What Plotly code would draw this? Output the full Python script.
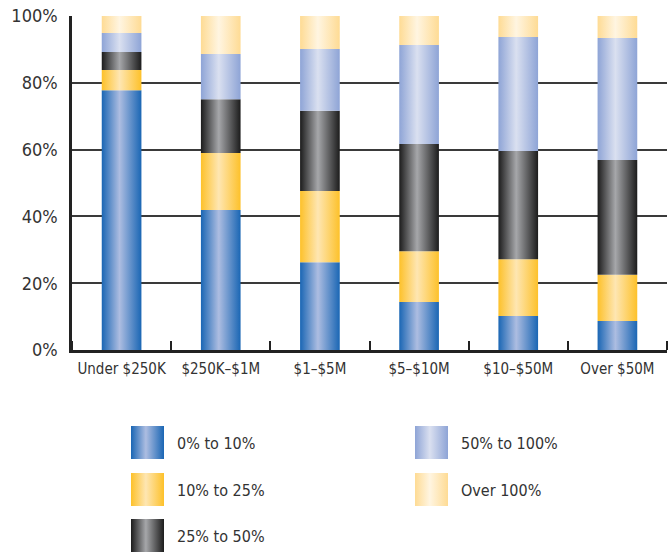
import plotly.graph_objects as go

# revenue-size categories and the share of firms in each growth band (%)
categories = ["Under $250K", "$250K–$1M", "$1–$5M", "$5–$10M", "$10–$50M", "Over $50M"]
share_0_10 = [77.8, 41.9, 26.3, 14.4, 10.2, 8.7]
share_10_25 = [6.0, 17.1, 21.3, 15.2, 17.0, 13.8]
share_25_50 = [5.4, 16.1, 24.0, 32.1, 32.4, 34.4]
share_50_100 = [5.7, 13.5, 18.5, 29.6, 34.1, 36.5]
share_over_100 = [5.1, 11.4, 9.9, 8.7, 6.3, 6.6]
series_names = ["0% to 10%", "10% to 25%", "25% to 50%", "50% to 100%", "Over 100%"]
y_ticks = [0, 20, 40, 60, 80, 100]

series = [share_0_10, share_10_25, share_25_50, share_50_100, share_over_100]
# (edge colour, centre colour) for the cylinder-like horizontal gradient
gradients = [
    ("#1a66b4", "#adbde1"),
    ("#fdc12a", "#fee6b2"),
    ("#1c1c1c", "#a6a7aa"),
    ("#8ea4d6", "#dae0f0"),
    ("#fedb94", "#fff5e1"),
]

FONT = "DejaVu Sans Condensed, Liberation Sans Narrow, sans-serif"
TEXT = "#333333"
half_w = 0.2  # half bar width in category units


def grad(edge, centre):
    return dict(type="horizontal",
                colorscale=[[0, edge], [0.45, centre], [1, edge]])


fig = go.Figure()

base = [0.0] * len(categories)
for vals, (edge, centre), name in zip(series, gradients, series_names):
    for i, v in enumerate(vals):
        c = i + 0.5
        b, t = base[i], base[i] + v
        fig.add_trace(go.Scatter(
            x=[c - half_w, c + half_w, c + half_w, c - half_w, c - half_w],
            y=[b, b, t, t, b],
            mode="lines", fill="toself",
            fillgradient=grad(edge, centre),
            line=dict(width=0),
            name=name, hoverinfo="skip", showlegend=False,
        ))
        base[i] = t

# hand-made legend in its own pixel-scaled axes below the chart
sw = 33
col_x = [131, 415]
row_y = [426, 473, 519]
for k, (name, (edge, centre)) in enumerate(zip(series_names, gradients)):
    col = 0 if k < 3 else 1
    row = k if k < 3 else k - 3
    x0, y0 = col_x[col], row_y[row]
    fig.add_trace(go.Scatter(
        x=[x0, x0 + sw, x0 + sw, x0, x0],
        y=[y0, y0, y0 + sw, y0 + sw, y0],
        xaxis="x2", yaxis="y2",
        mode="lines", fill="toself",
        fillgradient=grad(edge, centre),
        line=dict(width=0), hoverinfo="skip", showlegend=False,
    ))
    fig.add_annotation(
        x=x0 + sw + 11, y=y0 + sw / 2 + 1, xref="x2", yref="y2",
        text=name, showarrow=False, xanchor="left", yanchor="middle",
        font=dict(family=FONT, size=16, color=TEXT),
    )

H = 552
main_bottom = (H - 350) / (H - 16)

fig.update_layout(
    width=668, height=H,
    margin=dict(l=72, r=1, t=16, b=0, autoexpand=False),
    paper_bgcolor="white", plot_bgcolor="white",
    showlegend=False,
    xaxis=dict(
        range=[0, 6], domain=[0, 1], anchor="y",
        tickmode="array",
        tickvals=[i + 0.5 for i in range(len(categories))],
        ticktext=categories, ticks="", tickangle=0, automargin=False,
        ticklabelstandoff=3,
        tickfont=dict(family=FONT, size=15, color=TEXT),
        showline=True, linewidth=2.5, linecolor="#222222",
        showgrid=False, zeroline=False,
        minor=dict(tickmode="array", tickvals=list(range(7)), ticks="inside",
                   ticklen=9, tickwidth=1.5, tickcolor="#222222", showgrid=False),
    ),
    yaxis=dict(
        range=[0, 100], domain=[main_bottom, 1], anchor="x",
        tickmode="array", tickvals=y_ticks,
        ticktext=[f"{v}%" for v in y_ticks], ticks="",
        ticklabelstandoff=8, automargin=False,
        tickfont=dict(family=FONT, size=18, color=TEXT),
        showline=True, linewidth=2.5, linecolor="#222222",
        showgrid=True, gridcolor="#3a3a3a", gridwidth=2,
        zeroline=False,
    ),
    xaxis2=dict(range=[72, 667], domain=[0, 1], anchor="y2",
                visible=False, fixedrange=True),
    yaxis2=dict(range=[H, H - 0.3 * (H - 16)], domain=[0, 0.3], anchor="x2",
                visible=False, fixedrange=True),
)

# drop the page's default body margin so the figure sits at the window corner
fig.write_html("out.html", config={"displayModeBar": False},
               post_script="document.body.style.margin='0';")
